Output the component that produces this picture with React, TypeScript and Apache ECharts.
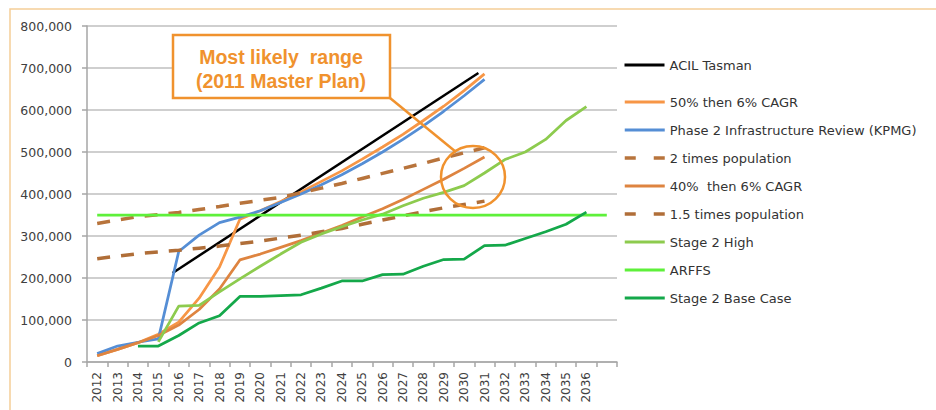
import React, { useEffect, useRef } from "react";
import * as echarts from "echarts";

const categories = [
  "2012", "2013", "2014", "2015", "2016", "2017", "2018", "2019", "2020", "2021",
  "2022", "2023", "2024", "2025", "2026", "2027", "2028", "2029", "2030", "2031",
  "2032", "2033", "2034", "2035", "2036", "",
];

const yTicks = { min: 0, max: 800000, interval: 100000 };

// ACIL Tasman is drawn against a year-valued (hidden) axis because it sits between categories
const acilYears = [2015.7, 2030.7];
const acilValues = [212000, 688000];

const fiftyThenSix = [
  15000, 30000, 46000, 66000, 95000, 152000, 226000, 340000, 360000, 382000,
  405000, 430000, 455000, 483000, 512000, 542000, 575000, 609000, 646000, 686000,
  null, null, null, null, null, null,
];

const kpmgReview = [
  20000, 38000, 47000, 55000, 263000, 302000, 332000, 345000, 360000, 380000,
  400000, 422000, 446000, 472000, 500000, 530000, 562000, 597000, 634000, 673000,
  null, null, null, null, null, null,
];

const twoTimesPopulation = [
  330000, 338000, 346000, 351000, 356000, 363000, 370000, 378000, 385000, 392000,
  403000, 414000, 425000, 437000, 449000, 461000, 473000, 486000, 498000, 510000,
  null, null, null, null, null, null,
];

const fortyThenSix = [
  15000, 30000, 46000, 63000, 88000, 125000, 174000, 243000, 257000, 273000,
  289000, 307000, 325000, 345000, 365000, 387000, 411000, 435000, 461000, 488000,
  null, null, null, null, null, null,
];

const onePointFiveTimesPopulation = [
  246000, 252000, 258000, 262000, 266000, 271000, 276000, 282000, 288000, 295000,
  302000, 310000, 318000, 328000, 338000, 348000, 358000, 367000, 375000, 383000,
  null, null, null, null, null, null,
];

const stage2High = [
  null, null, null, 48000, 133000, 135000, 167000, 198000, 228000, 257000,
  285000, 305000, 322000, 338000, 352000, 372000, 390000, 404000, 420000, 450000,
  482000, 500000, 530000, 575000, 608000, null,
];

const arffs = [
  350000, 350000, 350000, 350000, 350000, 350000, 350000, 350000, 350000, 350000,
  350000, 350000, 350000, 350000, 350000, 350000, 350000, 350000, 350000, 350000,
  350000, 350000, 350000, 350000, 350000, 350000,
];

const stage2BaseCase = [
  null, null, 38000, 38000, 63000, 93000, 110000, 156000, 156000, 158000,
  160000, 176000, 193000, 193000, 208000, 209000, 228000, 244000, 245000, 277000,
  278000, 294000, 310000, 328000, 357000, null,
];

const seriesNames = [
  "ACIL Tasman",
  "50% then 6% CAGR",
  "Phase 2 Infrastructure Review (KPMG)",
  "2 times population",
  "40%  then 6% CAGR",
  "1.5 times population",
  "Stage 2 High",
  "ARFFS",
  "Stage 2 Base Case",
];

const dashedNames = ["2 times population", "1.5 times population"];

const annotationLines = ["Most likely  range", "(2011 Master Plan)"];

const ORANGE = "#F0922E";
const LABEL_FONT = "DejaVu Sans";

export default function App() {
  const ref = useRef<HTMLDivElement>(null);

  useEffect(() => {
    if (!ref.current) return;
    const chart = echarts.init(ref.current, undefined, { renderer: "svg" });

    const solid = (name: string, data: (number | null)[], color: string, width = 2.75) => ({
      name,
      type: "line",
      data,
      symbol: "none",
      showSymbol: false,
      connectNulls: false,
      lineStyle: { color, width },
      itemStyle: { color },
      emphasis: { disabled: true },
    });
    const dashed = (name: string, data: (number | null)[], color: string) => ({
      name,
      type: "line",
      data,
      symbol: "none",
      showSymbol: false,
      lineStyle: { color, width: 3.5, type: [13, 11] },
      itemStyle: { color },
      emphasis: { disabled: true },
    });

    const legendText = {
      fontFamily: LABEL_FONT,
      fontSize: 13,
      color: "#333333",
      lineHeight: 16,
    };
    const legendCommon = {
      orient: "vertical",
      left: 618,
      itemWidth: 40,
      itemHeight: 16,
      itemGap: 12,
      selectedMode: false,
      textStyle: legendText,
      itemStyle: { opacity: 0, color: "transparent", borderWidth: 0 },
      lineStyle: { width: 3 },
    };
    const legendItem = (name: string) =>
      dashedNames.includes(name)
        ? { name, lineStyle: { type: [11, 18], width: 3.5 } }
        : { name };

    const option: any = {
      animation: false,
      backgroundColor: "#ffffff",
      grid: { left: 87, right: 319, top: 26, bottom: 48, containLabel: false },
      xAxis: [
        {
          type: "category",
          data: categories,
          boundaryGap: true,
          axisLine: { show: true, lineStyle: { color: "#A6A6A6", width: 1.5 } },
          axisTick: { show: true, length: 5, interval: 0, lineStyle: { color: "#A6A6A6", width: 1.5 } },
          axisLabel: {
            interval: 0,
            rotate: 90,
            margin: 10,
            fontFamily: LABEL_FONT,
            fontSize: 12,
            color: "#404040",
          },
          splitLine: { show: false },
        },
        {
          type: "value",
          min: 2011.5,
          max: 2037.5,
          show: false,
        },
      ],
      yAxis: {
        type: "value",
        min: yTicks.min,
        max: yTicks.max,
        interval: yTicks.interval,
        axisLine: { show: true, lineStyle: { color: "#A6A6A6", width: 1.5 } },
        axisTick: { show: true, length: 5, lineStyle: { color: "#A6A6A6", width: 1.5 } },
        axisLabel: {
          margin: 15,
          fontFamily: LABEL_FONT,
          fontSize: 12.5,
          color: "#404040",
          formatter: (v: number) => v.toLocaleString("en-US"),
        },
        splitLine: { show: true, lineStyle: { color: "#BFBFBF", width: 1.5 } },
      },
      legend: [
        { ...legendCommon, data: [legendItem(seriesNames[0])], top: 52 },
        { ...legendCommon, data: seriesNames.slice(1).map(legendItem), top: 89 },
      ],
      series: [
        {
          ...solid(seriesNames[0], acilYears.map((y, i) => [y, acilValues[i]]) as any, "#000000", 2.5),
          xAxisIndex: 1,
        },
        solid(seriesNames[1], fiftyThenSix, "#F79646"),
        solid(seriesNames[2], kpmgReview, "#558ED5"),
        dashed(seriesNames[3], twoTimesPopulation, "#B8743C"),
        solid(seriesNames[4], fortyThenSix, "#DE8440"),
        dashed(seriesNames[5], onePointFiveTimesPopulation, "#B06E38"),
        solid(seriesNames[6], stage2High, "#8DCB4E"),
        solid(seriesNames[7], arffs, "#5EF03A"),
        solid(seriesNames[8], stage2BaseCase, "#14A84A"),
      ],
      graphic: [
        {
          type: "rect",
          silent: true,
          z: 0,
          shape: { x: 10, y: 9, width: 940, height: 420 },
          style: { fill: "none", stroke: "#F5CE98", lineWidth: 1.5 },
        },
        {
          type: "line",
          silent: true,
          z: 100,
          shape: { x1: 390, y1: 98, x2: 456, y2: 152 },
          style: { stroke: ORANGE, lineWidth: 2.5 },
        },
        {
          type: "ellipse",
          silent: true,
          z: 100,
          shape: { cx: 473, cy: 177, rx: 32, ry: 31 },
          style: { fill: "none", stroke: ORANGE, lineWidth: 2.5 },
        },
        {
          type: "rect",
          silent: true,
          z: 100,
          shape: { x: 173, y: 35, width: 217, height: 63 },
          style: { fill: "#ffffff", stroke: ORANGE, lineWidth: 2.5 },
        },
        {
          type: "text",
          silent: true,
          z: 101,
          x: 281,
          y: 57,
          style: {
            text: annotationLines[0],
            fill: ORANGE,
            font: 'bold 19.5px "Liberation Sans", Arial, sans-serif',
            textAlign: "center",
            textVerticalAlign: "middle",
          },
        },
        {
          type: "text",
          silent: true,
          z: 101,
          x: 281,
          y: 81,
          style: {
            text: annotationLines[1],
            fill: ORANGE,
            font: 'bold 19.5px "Liberation Sans", Arial, sans-serif',
            textAlign: "center",
            textVerticalAlign: "middle",
          },
        },
      ],
    };

    chart.setOption(option);
    return () => chart.dispose();
  }, []);

  return (
    <div
      ref={ref}
      style={{ position: "fixed", left: 0, top: 0, width: 936, height: 410, background: "#fff" }}
    />
  );
}
